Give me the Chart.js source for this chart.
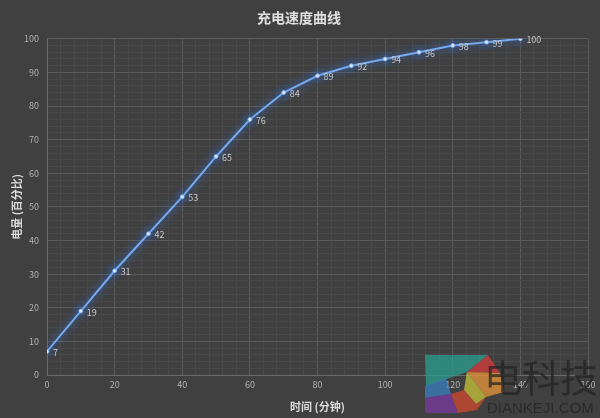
<!DOCTYPE html>
<html>
<head>
<meta charset="utf-8">
<script src="https://cdn.jsdelivr.net/npm/chart.js@4"></script>
<style>
  html, body { margin: 0; padding: 0; background: #404040; }
  #wrap { width: 600px; height: 418px; position: relative; }
</style>
</head>
<body>
<div id="wrap"><canvas id="chargeChart" width="600" height="418"></canvas></div>
<script>
// данные графика
const minutes = [0, 10, 20, 30, 40, 50, 60, 70, 80, 90, 100, 110, 120, 130, 140];
const percent = [7, 19, 31, 42, 53, 65, 76, 84, 89, 92, 94, 96, 98, 99, 100];
const chartTitle = '充电速度曲线';
const xTitle = '时间 (分钟)';
const yTitle = '电量 (百分比)';

const FONT = '"Noto Sans CJK SC", "Microsoft YaHei", sans-serif';

// свечение линии
const glowPlugin = {
    id: 'glow',
    beforeDatasetDraw(chart) {
        const c = chart.ctx;
        c.save();
        c.shadowColor = 'rgba(50, 120, 235, 1)';
        c.shadowBlur = 9;
    },
    afterDatasetDraw(chart) {
        chart.ctx.restore();
    }
};

// подписи значений справа от точек
const labelPlugin = {
    id: 'valueLabels',
    afterDatasetsDraw(chart) {
        const c = chart.ctx;
        const meta = chart.getDatasetMeta(0);
        c.save();
        c.font = '9px ' + FONT;
        c.fillStyle = '#c8c8c8';
        c.textBaseline = 'middle';
        c.textAlign = 'left';
        meta.data.forEach((pt, i) => {
            c.fillText(String(percent[i]), pt.x + 6, pt.y + 1);
        });
        c.restore();
    }
};

// водяной знак в правом нижнем углу
const watermarkPlugin = {
    id: 'watermark',
    afterDraw(chart) {
        const c = chart.ctx;
        c.save();
        const poly = (pts, col) => {
            c.beginPath();
            c.moveTo(pts[0][0], pts[0][1]);
            for (let i = 1; i < pts.length; i++) c.lineTo(pts[i][0], pts[i][1]);
            c.closePath();
            c.fillStyle = col;
            c.fill();
        };
        c.globalAlpha = 0.75;
        poly([[425, 355], [488, 355], [467, 372], [426, 386]], '#2a9d8f');
        poly([[488, 355], [500, 373], [467, 372]], '#d63b3b');
        poly([[467, 372], [500, 373], [504, 392], [486, 397]], '#e8953a');
        poly([[467, 372], [486, 397], [476, 404], [464, 390]], '#c9c43a');
        poly([[425, 386], [446, 378], [451, 394], [425, 398]], '#3a7fc0');
        poly([[425, 398], [451, 394], [458, 413], [425, 413]], '#7b3aa0');
        poly([[451, 394], [464, 390], [476, 404], [486, 397], [477, 410], [458, 413]], '#d2482f');
        c.globalAlpha = 1;
        c.fillStyle = 'rgba(35, 35, 35, 0.75)';
        c.font = '38px ' + FONT;
        c.textBaseline = 'alphabetic';
        c.textAlign = 'left';
        c.fillText('电科技', 484, 392);
        c.font = '15px "Liberation Sans", Arial, sans-serif';
        c.fillText('DIANKEJI.COM', 487, 413);
        c.restore();
    }
};

// цвет сетки: основные и вспомогательные линии
function gridColor(step) {
    return ctx => (ctx.tick && ctx.tick.value % step === 0) ? '#5b5b5b' : '#494949';
}

const canvas = document.getElementById('chargeChart');
const chart = new Chart(canvas.getContext('2d'), {
    type: 'line',
    data: {
        datasets: [{
            label: yTitle,
            data: minutes.map((m, i) => ({ x: m, y: percent[i] })),
            borderColor: '#78aaf0',
            borderWidth: 2,
            pointRadius: 2,
            pointBackgroundColor: '#e6efff',
            pointBorderColor: '#7aa8ee',
            pointBorderWidth: 0.8,
            tension: 0
        }]
    },
    options: {
        responsive: false,
        animation: false,
        devicePixelRatio: 1,
        layout: { padding: { left: 10, right: 12, top: 0, bottom: 5 } },
        plugins: {
            legend: { display: false },
            tooltip: { enabled: false },
            title: {
                display: true,
                text: chartTitle,
                color: '#e0e0e0',
                font: { family: FONT, size: 14, weight: 'bold' },
                padding: { top: 9, bottom: 13 }
            }
        },
        scales: {
            x: {
                type: 'linear',
                min: 0,
                max: 160,
                ticks: {
                    stepSize: 4,
                    autoSkip: false,
                    maxRotation: 0,
                    color: '#b0b0b0',
                    font: { family: FONT, size: 9 },
                    padding: 4,
                    callback: v => (v % 20 === 0 ? v : '')
                },
                grid: { color: gridColor(20), drawTicks: false, lineWidth: 1 },
                border: { color: '#6a6a6a' },
                title: {
                    display: true,
                    text: xTitle,
                    color: '#dcdcdc',
                    font: { family: FONT, size: 11, weight: 'bold' },
                    padding: { top: 6, bottom: 0 }
                }
            },
            y: {
                min: 0,
                max: 100,
                ticks: {
                    stepSize: 2,
                    autoSkip: false,
                    color: '#b0b0b0',
                    font: { family: FONT, size: 9 },
                    padding: 8,
                    callback: v => (v % 10 === 0 ? v : '')
                },
                grid: { color: gridColor(10), drawTicks: false, lineWidth: 1 },
                border: { color: '#6a6a6a' },
                title: {
                    display: true,
                    text: yTitle,
                    color: '#dcdcdc',
                    font: { family: FONT, size: 11, weight: 'bold' },
                    padding: { top: 0, bottom: 4 }
                },
                afterFit: s => { s.width = 37; }
            }
        }
    },
    plugins: [glowPlugin, labelPlugin, watermarkPlugin]
});
</script>
</body>
</html>
